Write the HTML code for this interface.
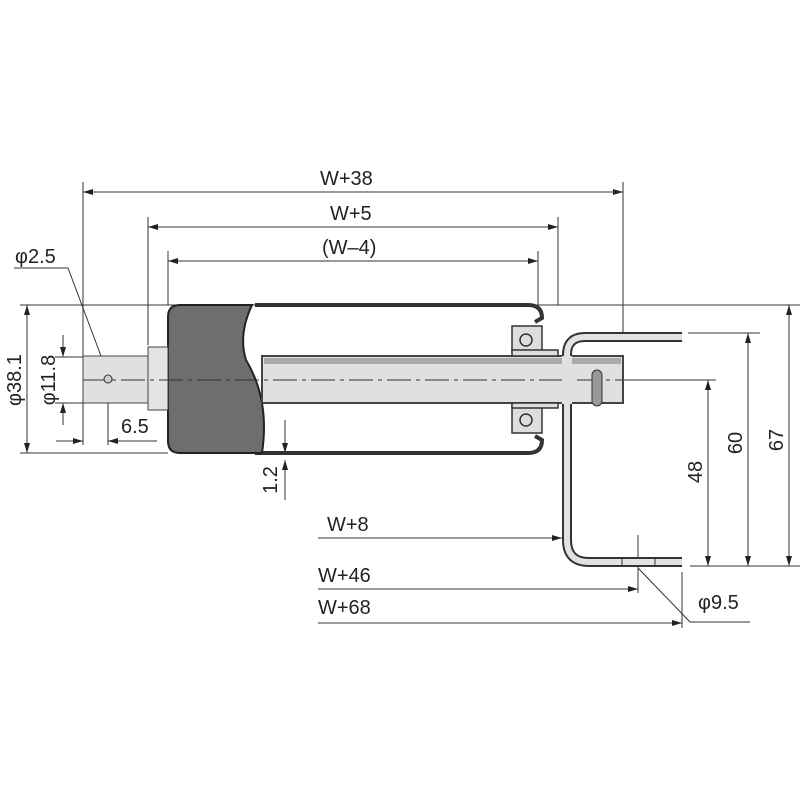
<!DOCTYPE html>
<html><head><meta charset="utf-8"><style>
html,body{margin:0;padding:0;background:#fff}
svg{display:block}
text{font-family:"Liberation Sans",sans-serif;fill:#222;font-size:20px}
</style></head><body>
<svg width="800" height="800" viewBox="0 0 800 800" xmlns="http://www.w3.org/2000/svg">
<defs>
<marker id="a" viewBox="0 0 10 6" refX="10" refY="3" markerWidth="10" markerHeight="6" orient="auto-start-reverse" markerUnits="userSpaceOnUse"><path d="M0,0 L10,3 L0,6z" fill="#222"/></marker>
</defs>
<g stroke="#333" stroke-width="1" fill="none">
<line x1="83" y1="182" x2="83" y2="445"/>
<line x1="623" y1="182" x2="623" y2="340"/>
<line x1="148" y1="217" x2="148" y2="345"/>
<line x1="558" y1="217" x2="558" y2="305"/>
<line x1="168" y1="251" x2="168" y2="305"/>
<line x1="538" y1="251" x2="538" y2="305"/>
<line x1="20" y1="305" x2="800" y2="305"/>
<line x1="20" y1="453" x2="168" y2="453"/>
<line x1="55" y1="357" x2="95" y2="357"/>
<line x1="55" y1="403" x2="95" y2="403"/>
<line x1="108" y1="380" x2="108" y2="445"/>
<line x1="630" y1="380" x2="716" y2="380"/>
<line x1="688" y1="333" x2="760" y2="333"/>
<line x1="690" y1="566" x2="800" y2="566"/>
<line x1="638" y1="535" x2="638" y2="593"/>
<line x1="682" y1="572" x2="682" y2="628"/>
<line x1="83" y1="192" x2="623" y2="192" marker-start="url(#a)" marker-end="url(#a)"/>
<line x1="148" y1="227" x2="558" y2="227" marker-start="url(#a)" marker-end="url(#a)"/>
<line x1="168" y1="261" x2="538" y2="261" marker-start="url(#a)" marker-end="url(#a)"/>
<line x1="27" y1="305" x2="27" y2="453" marker-start="url(#a)" marker-end="url(#a)"/>
<line x1="63" y1="335" x2="63" y2="357" marker-end="url(#a)"/>
<line x1="63" y1="425" x2="63" y2="403" marker-end="url(#a)"/>
<line x1="56" y1="441" x2="83" y2="441" marker-end="url(#a)"/>
<line x1="157" y1="441" x2="108" y2="441" marker-end="url(#a)"/>
<line x1="285" y1="420" x2="285" y2="453" marker-end="url(#a)"/>
<line x1="285" y1="500" x2="285" y2="460" marker-end="url(#a)"/>
<line x1="708" y1="380" x2="708" y2="566" marker-start="url(#a)" marker-end="url(#a)"/>
<line x1="748" y1="333" x2="748" y2="566" marker-start="url(#a)" marker-end="url(#a)"/>
<line x1="789" y1="305" x2="789" y2="566" marker-start="url(#a)" marker-end="url(#a)"/>
<line x1="318" y1="538" x2="562" y2="538" marker-end="url(#a)"/>
<line x1="318" y1="589" x2="638" y2="589" marker-end="url(#a)"/>
<line x1="318" y1="623" x2="682" y2="623" marker-end="url(#a)"/>
<polyline points="14,268 68,268 107,372" marker-end="url(#a)"/>
<polyline points="638,568 690,622 750,622"/>
</g>
<path d="M255,305 L528,305 Q542,305 542,318 L535,322" fill="none" stroke="#333" stroke-width="4"/>
<path d="M255,453 L528,453 Q542,453 542,440 L535,436" fill="none" stroke="#333" stroke-width="4"/>
<path d="M180,305 L252,305 Q238,335 246,360 Q270,400 262,453 L180,453 Q168,453 168,441 L168,317 Q168,305 180,305z" fill="#6e6e6e" stroke="#222" stroke-width="2"/>
<rect x="148" y="347" width="20" height="63" fill="#e4e4e4" stroke="#444"/>
<rect x="83" y="356" width="65" height="47" fill="#e0e0e0" stroke="#444"/>
<rect x="262" y="356" width="361" height="47" fill="#e0e0e0" stroke="#444" stroke-width="2"/>
<rect x="264" y="358" width="357" height="6" fill="#aaa"/>
<line x1="83" y1="380" x2="630" y2="380" stroke="#333" stroke-dasharray="24,5,4,5"/>
<circle cx="108" cy="379" r="4" fill="#ccc" stroke="#333"/>
<rect x="592" y="370" width="10" height="36" rx="5" fill="#999" stroke="#333"/>
<g fill="#ddd" stroke="#333" stroke-width="1.5">
<rect x="512" y="326" width="30" height="26"/>
<rect x="512" y="405" width="30" height="28"/>
<rect x="512" y="350" width="46" height="6"/>
<rect x="512" y="403" width="46" height="5"/>
<circle cx="526" cy="340" r="6"/>
<circle cx="526" cy="420" r="6"/>
</g>
<path d="M682,337 L585,337 Q567,337 567,355 L567,540 Q567,562 589,562 L682,562" fill="none" stroke="#333" stroke-width="10"/>
<path d="M682,337 L585,337 Q567,337 567,355 L567,540 Q567,562 589,562 L682,562" fill="none" stroke="#e2e2e2" stroke-width="6"/>
<rect x="562" y="356" width="10" height="48" fill="#e0e0e0"/>
<line x1="623" y1="356" x2="623" y2="403" stroke="#444" stroke-width="2"/>
<line x1="622" y1="558" x2="622" y2="566" stroke="#333"/>
<line x1="655" y1="558" x2="655" y2="566" stroke="#333"/>
<text x="320" y="185">W+38</text>
<text x="330" y="220">W+5</text>
<text x="322" y="254">(W–4)</text>
<text x="15" y="263">φ2.5</text>
<text x="121" y="433">6.5</text>
<text x="327" y="531">W+8</text>
<text x="318" y="582">W+46</text>
<text x="318" y="614">W+68</text>
<text x="698" y="609">φ9.5</text>
<text transform="translate(21,380) rotate(-90)" text-anchor="middle">φ38.1</text>
<text transform="translate(55,380) rotate(-90)" text-anchor="middle">φ11.8</text>
<text transform="translate(277,480) rotate(-90)" text-anchor="middle">1.2</text>
<text transform="translate(702,472) rotate(-90)" text-anchor="middle">48</text>
<text transform="translate(742,443) rotate(-90)" text-anchor="middle">60</text>
<text transform="translate(783,440) rotate(-90)" text-anchor="middle">67</text>
</svg>
</body></html>
